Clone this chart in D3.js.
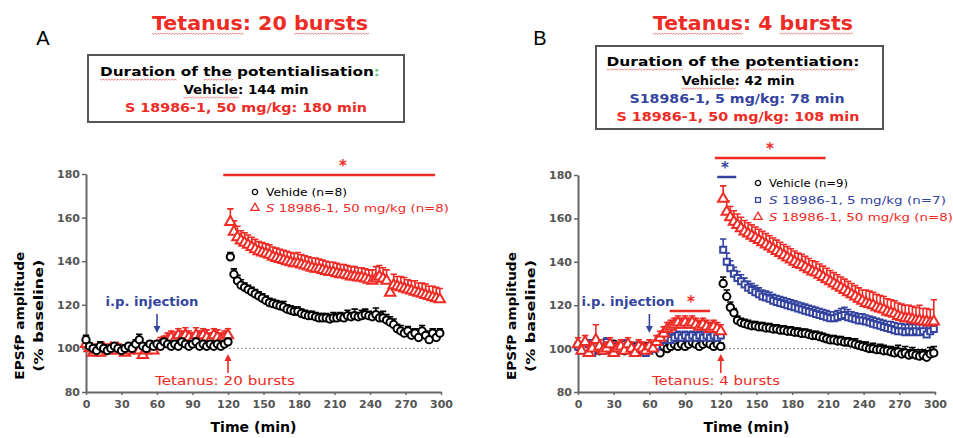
<!DOCTYPE html>
<html><head><meta charset="utf-8">
<script src="https://cdn.jsdelivr.net/npm/d3@7"></script>
<style>body{margin:0;background:#fff} svg{display:block}</style>
</head><body>
<svg id="c" width="953" height="438"></svg>
<script>
// ---- time grid (min) ----
const timeBase = [0,3,6,9,12,15,18,21,24,27,30,33,36,39,42,45,48,51,54,57,60,63,66,69,72,75,78,81,84,87,90,93,96,99,102,105,108,111,114,117,120];
const timePost = [122,125,128,131,134,137,140,143,146,149,152,155,158,161,164,167,170,173,176,179,182,185,188,191,194,197,200,203,206,209,212,215,218,221,224,227,230,233,236,239,242,245,248,251,254,257,260,263,266,269,272,275,278,281,284,287,290,293,296,299];
const times = timeBase.concat(timePost);

const xTicks = [0,30,60,90,120,150,180,210,240,270,300];
const yTicks = [80,100,120,140,160,180];

// ---- Panel A: tetanus 20 bursts (EPSfP, % baseline) ----
const vehA_base = [104,101,100,99,101,100,99,100,101,100, 99,100,101,100,102,104,101,100,102,101, 102,101,103,102,101,102,101,103,102,101, 102,103,101,102,101,102,101,102,101,102, 103];
const vehA_post = [142,134,131,129,128,127,126,125,124,123, 122,121,120.5,120,119.5,119,118,117.5,117,117, 116,115.5,115,115,114.5,114,114,114,113.5,114, 114,114.5,114,115,114.5,115,114.5,115,115.5,115, 114.5,115.5,114,114,113,112,111,109,108,107, 108,106,107,105,108,106,104,107,105,107];
const vehA_semBase = [2,1.5,1.5,1.5,2,1.5,1.5,1.5,1.5,1.5, 1.5,1.5,1.5,1.5,2,2.5,1.5,1.5,1.5,1.5, 1.5,1.5,1.5,1.5,1.5,1.5,1.5,1.5,1.5,1.5, 1.5,1.5,1.5,1.5,1.5,1.5,1.5,1.5,1.5,1.5, 1.5];
const vehA_semPost = [2,2.5,2.5,2.5,2,2,2,2,2,2, 2,2,2,2,2,2.5,2,2,2,2, 2,2,2,2,2,2,2,2,2,2.5, 2,2,2,2.5,2,3,2,2.5,2.5,2, 2,3,2.5,3,2.5,2.5,2.5,2,2.5,2, 2,2.5,2,2,2.5,2,2,2,2.5,2];

const s50A_base = [102,100,98,99,98,100,99,100,99,100, 99,98,99,100,101,99,97,99,100,99, 101,102,103,104,105,104,106,105,106,105, 104,106,105,106,105,104,106,105,104,105, 106];
const s50A_post = [158,153.5,151,149.5,148.5,147.5,146.5,145.5,144.5,144, 143.5,143,142,141.5,141,140.5,140,139.5,139,139, 138.5,138,137.5,137,136.5,136.5,136,135.5,135,135, 134.5,134,134,133.5,133,133,132.5,132.5,132,131.5, 131,132,133,132,131,125.5,129,128.5,128,127.5, 127,126.5,126,125.5,125,124.5,124,123.5,123,122.5];
const s50A_semBase = [2.5,2,2.5,3,2.5,2,2.5,2,2.5,2, 2.5,2.5,2,2.5,2,2.5,3,2.5,2,2.5, 2.5,3,2.5,3,3,3.5,3,3,3.5,3, 3,3.5,3,3,3.5,3,3,3.5,3,3, 3];
const s50A_semPost = [6,5,5,4.5,4.5,4.5,4.5,4.5,4.5,4.5, 4.5,4.5,4.5,4.5,4.5,4.5,4.5,4.5,4.5,5, 4.5,4.5,4.5,4.5,5,4.5,4.5,4.5,4.5,4.5, 4.5,4.5,4.5,4.5,4.5,4.5,4.5,4.5,4.5,4.5, 5,5.5,5,5,5,5,5,4.5,5,5, 4.5,4.5,5,4.5,5,5,4.5,5,5,5];

// ---- Panel B: tetanus 4 bursts ----
const vehB_base = [101,100,102,99,100,101,99,100,101,100, 102,101,100,99,101,100,101,100,99,101, 100,101,100,98,101,100,101,102,101,102, 101,102,103,102,101,102,103,102,101,102, 101];
const vehB_post = [130,124,119,116.5,113,112,111.5,111,110.5,110.5, 110,110,109.5,109.5,109,109,108.5,108.5,108,108, 107.5,107.5,107,107,106.5,106,106,105.5,105,104.5, 104,104,103.5,103.5,103,103,102.5,102,101.5,101, 100.5,100,100,99.5,99.5,99,99,98.5,98,98.5, 97.5,98,97,97.5,97,96.5,97,96,97.5,98];
const vehB_semBase = [1.5,1.5,1.5,1.5,1.5,1.5,1.5,1.5,1.5,1.5, 1.5,1.5,1.5,1.5,1.5,1.5,1.5,1.5,1.5,1.5, 1.5,1.5,1.5,2,1.5,1.5,1.5,1.5,1.5,1.5, 1.5,1.5,1.5,1.5,1.5,1.5,1.5,1.5,1.5,1.5, 1.5];
const vehB_semPost = [3,3,2.5,2,2,2,2,2,2,2, 2,2,2,2,2,2,2,2,2,2, 2,2,2,2,2,2,2,2,2,2, 2,2,2,2,2,2,2,2.5,2,2, 2.5,2,2.5,2,2.5,2.5,2,2.5,2.5,3, 2.5,3,2.5,3,2.5,3,2.5,3,3,3];

const s5B_base = [101,99,100,102,98,101,100,99,103,100, 101,99,100,102,101,100,99,101,100,98, 99,100,101,103,104,105,104,105,106,105, 106,105,106,105,106,105,106,105,106,105, 106];
const s5B_post = [145.5,140,137,134.5,132.5,131,129.5,128,127,126, 125,124,123.5,123,122,121.5,121,120.5,120,119.5, 119,118.5,118,117.5,117,116.5,116,115.5,115,114.5, 114,114,114.5,115,115.5,114.5,114,113.5,113,113, 112.5,112,111.5,111,110.5,110,109.5,109,108.5,108, 108,107.5,108,107.5,108,107.5,108,106.5,108,109];
const s5B_semBase = [2,2,2,2,2,2,2,2,2,2, 2,2,2,2,2,2,2,2,2,2, 2,2,2,2,2,2,2,2,2,2, 2,2,2,2,2,2,2,2,2,2, 2];
const s5B_semPost = [5,4,3.5,3,3,3,3,3,3,3, 3,3,3,3,3,3,3,3,3,3, 3,3,3,3,3,3,3,3,3,3, 3,3,3,3.5,3.5,3.5,3,3,3,3, 3,3,3,3,3,3,3,3.5,3.5,3.5, 3.5,3.5,3.5,3.5,3.5,3.5,3.5,4,3.5,4];

const s50B_base = [102,99,103,98,100,104,101,99,100,102, 98,100,101,99,102,100,98,101,100,99, 101,100,103,105,107,109,110,111,112,111, 112,111,112,111,110,111,110,109,110,109, 108];
const s50B_post = [169,163,160.5,158.5,157,155.5,154,153,152,151, 150,149,148,147,146,145,144,143,142,141, 140,139,138.5,137.5,136.5,135.5,135,134,133,132, 131,130,129,128,127,126,125,124,123,122, 121,120.5,120,119,118.5,118,117,116.5,116,115, 114.5,114,114,113.5,113,113,112.5,112.5,112,112.5];
const s50B_semBase = [3,3,3,3,3,7,3,3,3,3, 3,3,3,3,3,3,3,3,3,3, 3,3,3,3,3,3,3,3,3,3, 3,3,3,3,3,3,3,3,3,3, 3];
const s50B_semPost = [6,5,5,5,5,5,5,5,5,5, 5,5,5,5,5,5,5,5,5,5, 5,5,5,5,5,5,5,5,5,5, 5,5,5,5,5,5,5,5,5,5, 6,6,6,6,6,6,6,6,6,6, 6,6,6,6,6,7,6,6,6,10];

// ---- styling ----
const RED = '#ee2b25', BLUE = '#34449e', GRAY = '#666', TICK = '#555';
const FONT = '"DejaVu Sans", Verdana, sans-serif';
const svg = d3.select('#c');

function txt(parent, x, y, str, o = {}) {
  const t = parent.append('text')
    .attr('x', x).attr('y', y)
    .attr('font-family', o.family || FONT)
    .attr('font-size', o.size || 12)
    .attr('font-weight', o.weight || 'bold')
    .attr('fill', o.fill || '#000')
    .attr('text-anchor', o.anchor || 'middle');
  if (o.rotate) t.attr('transform', `rotate(${o.rotate},${x},${y})`);
  if (Array.isArray(str)) {
    str.forEach(s => {
      const ts = t.append('tspan').text(s.t);
      if (s.fill) ts.attr('fill', s.fill);
      if (s.italic) ts.attr('font-style', 'italic');
    });
  } else t.text(str);
  if (o.width) t.attr('textLength', o.width).attr('lengthAdjust', 'spacingAndGlyphs');
  return t;
}

// red wavy "spell-check" underline below given words of a text element
function squiggle(t, words) {
  const node = t.node();
  const s = node.textContent;
  let from = 0;
  words.forEach(w => {
    const i = s.indexOf(w, from);
    if (i < 0) return;
    from = i + w.length;
    const x0 = node.getStartPositionOfChar(i).x;
    const x1 = node.getEndPositionOfChar(i + w.length - 1).x;
    const y0 = +t.attr('y') + 3;
    let d = `M${x0},${y0}`;
    for (let x = x0, k = 0; x < x1; x += 1.5, k++) d += `L${x + 1.5},${y0 + (k % 2 ? 0 : 1.2)}`;
    d3.select(node.parentNode).append('path').attr('d', d)
      .attr('fill', 'none').attr('stroke', '#e0554f').attr('stroke-width', 0.8).attr('opacity', 0.85);
  });
}

function marker(kind) {
  if (kind === 'circle') return d3.symbol(d3.symbolCircle, 42)();
  if (kind === 'square') return d3.symbol(d3.symbolSquare, 36)();
  return d3.symbol(d3.symbolTriangle, 46)();
}

function arrow(g, x, yTail, yTip, color) {
  const dir = yTip > yTail ? 1 : -1;
  g.append('line').attr('x1', x).attr('x2', x).attr('y1', yTail).attr('y2', yTip - dir * 5)
    .attr('stroke', color).attr('stroke-width', 1.6);
  g.append('path').attr('d', `M${x},${yTip}L${x - 3.5},${yTip - dir * 7}L${x + 3.5},${yTip - dir * 7}Z`)
    .attr('fill', color);
}

function drawPanel(p) {
  const x = d3.scaleLinear().domain([0, 300]).range(p.xr);
  const y = d3.scaleLinear().domain([80, 180]).range(p.yr);
  const g = svg.append('g');

  const ax = g.append('g').attr('transform', `translate(0,${p.yr[0]})`)
    .call(d3.axisBottom(x).tickValues(xTicks).tickSize(3).tickSizeOuter(0).tickPadding(5));
  const ay = g.append('g').attr('transform', `translate(${p.xr[0]},0)`)
    .call(d3.axisLeft(y).tickValues(yTicks).tickSize(4).tickSizeOuter(0).tickPadding(2));
  [ax, ay].forEach(a => {
    a.select('.domain').attr('stroke', GRAY).attr('stroke-width', 2);
    a.selectAll('.tick line').attr('stroke', GRAY).attr('stroke-width', 1.5);
    a.selectAll('.tick text').attr('fill', TICK).attr('font-family', FONT)
      .attr('font-weight', 'bold').attr('font-size', 11);
  });

  // axis titles
  const yc = y(115);
  txt(g, p.xr[0] - 67, yc, 'EPSfP amplitude', { size: 13, rotate: -90, width: 128 }).attr('dy', '0.35em');
  txt(g, p.xr[0] - 48, yc, '(% baseline)', { size: 13, rotate: -90, width: 112 }).attr('dy', '0.35em');
  txt(g, x(150) - 10, 432, 'Time (min)', { size: 13.5, width: 86 });

  // dotted 100 % reference
  g.append('line').attr('x1', x(p.dotFrom)).attr('x2', x(299)).attr('y1', y(100)).attr('y2', y(100))
    .attr('stroke', '#777').attr('stroke-width', 1.2).attr('stroke-dasharray', '1.3,2.7');

  // data series: upward SEM bars, then open markers
  p.series.forEach(s => {
    const pts = times.map((t, i) => ({ t, v: s.values[i], e: s.sem[i] }));
    const sg = g.append('g');
    sg.selectAll('path.err').data(pts).join('path').attr('class', 'err')
      .attr('d', d => {
        const x0 = x(d.t), y0 = y(d.v), y1 = y(d.v + d.e);
        return `M${x0},${y0}V${y1}M${x0 - 3.2},${y1}H${x0 + 3.2}`;
      })
      .attr('stroke', s.color).attr('stroke-width', 1.6).attr('fill', 'none');
    sg.selectAll('path.mk').data(pts).join('path').attr('class', 'mk')
      .attr('transform', d => `translate(${x(d.t)},${y(d.v)})`)
      .attr('d', marker(s.kind))
      .attr('fill', '#fff').attr('stroke', s.color).attr('stroke-width', 2);
  });

  // significance bars
  p.sig.forEach(b => {
    g.append('line').attr('x1', x(b.from)).attr('x2', x(b.to)).attr('y1', b.y).attr('y2', b.y)
      .attr('stroke', b.color).attr('stroke-width', 2.5);
    txt(g, b.star, b.y - 4, '*', { size: 15, fill: b.color });
  });

  // legend
  p.legend.forEach((l, i) => {
    const ly = p.legY + i * p.legStep;
    g.append('path').attr('transform', `translate(${p.legX},${ly - 4})`)
      .attr('d', l.kind === 'circle' ? d3.symbol(d3.symbolCircle, 22)() :
                 l.kind === 'square' ? d3.symbol(d3.symbolSquare, 24)() : d3.symbol(d3.symbolTriangle, 30)())
      .attr('fill', '#fff').attr('stroke', l.color).attr('stroke-width', 1.3);
    txt(g, p.legX + 11, ly, l.label, { size: 11, weight: 'normal', fill: l.color, anchor: 'start', width: l.w });
  });

  // injection and tetanus annotations
  txt(g, p.ipX, 306, 'i.p. injection', { size: 11.5, fill: BLUE, width: 93 });
  arrow(g, x(60), 314, 333, BLUE);
  arrow(g, x(120), 373, 354, RED);
  txt(g, p.tetX, 385, p.tetLabel, { size: 12, weight: 'normal', fill: RED, width: p.tetW });

  return { x, y };
}

// ---------- Panel A ----------
txt(svg, 43, 45, 'A', { family: '"Liberation Sans", Arial, sans-serif', weight: 'normal', size: 20 });
const tA = txt(svg, 260, 30, 'Tetanus: 20 bursts', { size: 19, fill: RED, width: 216 });
squiggle(tA, ['Tetanus', 'bursts']);
svg.append('rect').attr('x', 88).attr('y', 55).attr('width', 316).attr('height', 67)
  .attr('fill', '#fff').attr('stroke', '#555').attr('stroke-width', 2);
const a1 = txt(svg, 240, 76, [{ t: 'Duration of the potentialisation' }, { t: ':', fill: '#7cc47c' }], { size: 12.5, width: 280 });
squiggle(a1, ['Duration', 'the']);
const a2 = txt(svg, 246, 94, 'Vehicle: 144 min', { size: 12.5, width: 125 });
squiggle(a2, ['Vehicle']);
txt(svg, 246, 112, 'S 18986-1, 50 mg/kg: 180 min', { size: 12.5, fill: RED, width: 242 });

drawPanel({
  xr: [86, 441], yr: [392, 174], dotFrom: 121,
  series: [
    { values: s50A_base.concat(s50A_post), sem: s50A_semBase.concat(s50A_semPost), kind: 'triangle', color: RED },
    { values: vehA_base.concat(vehA_post), sem: vehA_semBase.concat(vehA_semPost), kind: 'circle', color: '#000' }
  ],
  sig: [{ from: 116, to: 295, y: 175, star: 343, color: RED }],
  legX: 255, legY: 196, legStep: 16,
  legend: [
    { kind: 'circle', color: '#000', label: 'Vehide (n=8)', w: 81 },
    { kind: 'triangle', color: RED, label: [{ t: 'S', italic: true }, { t: ' 18986-1, 50 mg/kg (n=8)' }], w: 183 }
  ],
  ipX: 152, tetX: 225, tetLabel: 'Tetanus: 20 bursts', tetW: 140
});

// ---------- Panel B ----------
txt(svg, 540, 45, 'B', { family: '"Liberation Sans", Arial, sans-serif', weight: 'normal', size: 20 });
const tB = txt(svg, 753, 30, 'Tetanus: 4 bursts', { size: 19, fill: RED, width: 200 });
squiggle(tB, ['Tetanus', 'bursts']);
svg.append('rect').attr('x', 596).attr('y', 46).attr('width', 287).attr('height', 83)
  .attr('fill', '#fff').attr('stroke', '#555').attr('stroke-width', 2);
const b1 = txt(svg, 733, 66, 'Duration of the potentiation:', { size: 12.5, width: 253 });
squiggle(b1, ['Duration', 'the', 'potentiation']);
const b2 = txt(svg, 738, 85, 'Vehicle: 42 min', { size: 12.5, width: 113 });
squiggle(b2, ['Vehicle']);
txt(svg, 737, 103, 'S18986-1, 5 mg/kg: 78 min', { size: 12.5, fill: BLUE, width: 215 });
txt(svg, 738, 121, 'S 18986-1, 50 mg/kg: 108 min', { size: 12.5, fill: RED, width: 243 });

drawPanel({
  xr: [578, 935], yr: [392, 175], dotFrom: 124,
  series: [
    { values: vehB_base.concat(vehB_post), sem: vehB_semBase.concat(vehB_semPost), kind: 'circle', color: '#000' },
    { values: s5B_base.concat(s5B_post), sem: s5B_semBase.concat(s5B_semPost), kind: 'square', color: BLUE },
    { values: s50B_base.concat(s50B_post), sem: s50B_semBase.concat(s50B_semPost), kind: 'triangle', color: RED }
  ],
  sig: [
    { from: 115, to: 208, y: 158, star: 770, color: RED },
    { from: 117, to: 133, y: 177, star: 725, color: BLUE },
    { from: 77, to: 111, y: 311, star: 691, color: RED }
  ],
  legX: 758, legY: 187, legStep: 17,
  legend: [
    { kind: 'circle', color: '#000', label: 'Vehicle (n=9)', w: 79 },
    { kind: 'square', color: BLUE, label: [{ t: 'S', italic: true }, { t: ' 18986-1, 5 mg/kg (n=7)' }], w: 177 },
    { kind: 'triangle', color: RED, label: [{ t: 'S', italic: true }, { t: ' 18986-1, 50 mg/kg (n=8)' }], w: 184 }
  ],
  ipX: 628, tetX: 716, tetLabel: 'Tetanus: 4 bursts', tetW: 128
});
</script>
</body></html>
